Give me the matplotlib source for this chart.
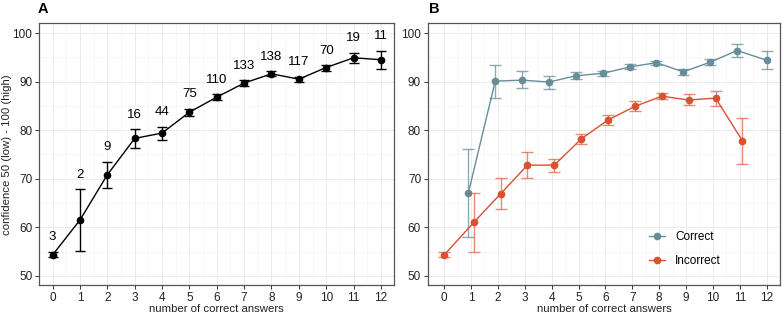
import matplotlib
matplotlib.use("Agg")
import matplotlib.pyplot as plt
import numpy as np

plt.rcParams['font.family'] = ['Liberation Sans', 'DejaVu Sans']

# panel A: all answers
n_correct = np.arange(13)
conf_mean = [54.3, 61.5, 70.8, 78.3, 79.4, 83.7, 86.8, 89.7, 91.6, 90.5, 92.9, 94.9, 94.5]
conf_lo = [53.8, 55.2, 68.1, 76.3, 78.0, 82.9, 86.3, 89.1, 91.2, 90.0, 92.2, 93.8, 92.5]
conf_hi = [54.9, 67.8, 73.5, 80.2, 80.7, 84.4, 87.4, 90.3, 92.1, 91.0, 93.4, 95.9, 96.4]
counts = [3, 2, 9, 16, 44, 75, 110, 133, 138, 117, 70, 19, 11]

# panel B: split by answer correctness
corr_x = np.arange(1, 13)
corr_mean = [67.1, 90.1, 90.3, 89.9, 91.2, 91.7, 93.0, 93.9, 92.0, 94.0, 96.4, 94.4]
corr_lo = [58.1, 86.6, 88.7, 88.4, 90.6, 91.2, 92.5, 93.5, 91.4, 93.4, 95.1, 92.5]
corr_hi = [76.1, 93.4, 92.1, 91.2, 92.0, 92.2, 93.6, 94.3, 92.5, 94.7, 97.7, 96.4]

inc_x = np.arange(0, 12)
inc_mean = [54.3, 61.0, 66.9, 72.8, 72.8, 78.2, 82.1, 84.9, 87.0, 86.2, 86.6, 77.8]
inc_lo = [53.8, 54.9, 63.7, 70.1, 71.4, 77.1, 81.0, 83.9, 86.4, 85.2, 85.0, 73.1]
inc_hi = [54.9, 67.1, 70.2, 75.5, 74.1, 79.3, 83.2, 85.9, 87.7, 87.4, 88.1, 82.4]

c_corr = "#678d99"
c_inc = "#dc4f2f"
border = "#555555"

fig = plt.figure(figsize=(7.84, 3.15), dpi=100)
axA = fig.add_axes([0.050, 0.095, 0.453, 0.831])
axB = fig.add_axes([0.546, 0.095, 0.449, 0.831])


def style(ax, xlim):
    ax.set_xlim(*xlim)
    ax.set_ylim(48.1, 102.0)
    ax.set_xticks(range(13))
    ax.set_yticks([50, 60, 70, 80, 90, 100])
    ax.set_xticks(np.arange(0.5, 12, 1), minor=True)
    ax.set_yticks([55, 65, 75, 85, 95], minor=True)
    ax.grid(which='major', color='#ebebeb', lw=0.7)
    ax.grid(which='minor', color='#f4f4f4', lw=0.5)
    ax.set_axisbelow(True)
    ax.tick_params(which='major', length=3, width=0.7, color='#333333',
                   labelsize=8.5, labelcolor='#222222', pad=2)
    ax.tick_params(which='minor', length=0)
    for s in ax.spines.values():
        s.set_color(border)
        s.set_linewidth(0.9)
    ax.set_xlabel("number of correct answers", fontsize=8.2, labelpad=0, color='#222222')


# Panel A
mean = np.array(conf_mean)
yerr = [mean - np.array(conf_lo), np.array(conf_hi) - mean]
axA.errorbar(n_correct, mean, yerr=yerr, color='black', lw=1, marker='o',
             markersize=4.5, capsize=3.5, elinewidth=1, capthick=1)
for x, hi, n in zip(n_correct, conf_hi, counts):
    axA.text(x, hi + 3, str(n), ha='center', va='center', fontsize=9.5)
style(axA, (-0.49, 12.49))
fig.text(7 / 784, 0.095 + 0.831 / 2, "confidence 50 (low) - 100 (high)", rotation=90,
         ha='center', va='center', fontsize=8.2, color='#222222')

# Panel B
cm = np.array(corr_mean)
cx = corr_x - 0.1
cx[-1] = corr_x[-1]
axB.errorbar(cx, cm, yerr=[cm - np.array(corr_lo), np.array(corr_hi) - cm],
             fmt='none', ecolor=c_corr, alpha=0.75, elinewidth=1, capsize=4, capthick=1)
axB.plot(cx, cm, color=c_corr, lw=1, marker='o', markersize=4.5, label='Correct')

im = np.array(inc_mean)
ix = inc_x + 0.1
ix[0] = inc_x[0]
axB.errorbar(ix, im, yerr=[im - np.array(inc_lo), np.array(inc_hi) - im],
             fmt='none', ecolor=c_inc, alpha=0.65, elinewidth=1, capsize=4, capthick=1)
axB.plot(ix, im, color=c_inc, lw=1, marker='o', markersize=4.5, label='Incorrect')
style(axB, (-0.6, 12.5))

axB.legend(loc='lower left', bbox_to_anchor=(0.598, 0.028), frameon=False,
           fontsize=8.5, handlelength=1.3, labelspacing=1.0, handletextpad=0.9)

fig.text(38 / 784, 0.995, "A", fontsize=10.5, fontweight='bold', va='top')
fig.text(429 / 784, 0.995, "B", fontsize=10.5, fontweight='bold', va='top')

fig.savefig("out.png", dpi=100)
